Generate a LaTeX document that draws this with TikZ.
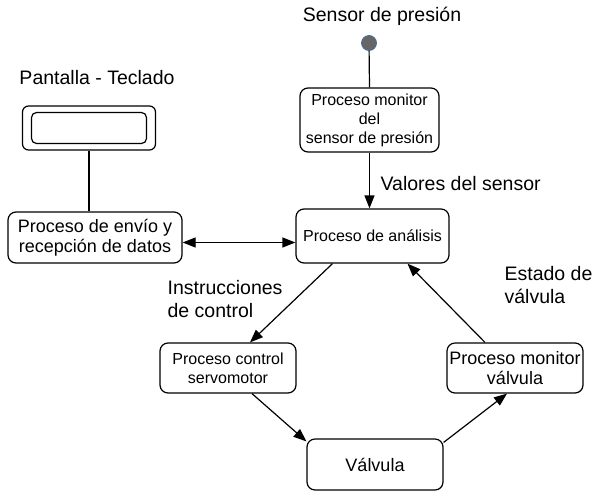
\documentclass[tikz,border=0pt]{standalone}
\usepackage{fontspec}
\setmainfont{Liberation Sans}
\usetikzlibrary{arrows.meta,positioning}

\begin{document}
\begin{tikzpicture}[x=1pt,y=-1pt, line width=1.2pt,
        >={Triangle[length=13pt,width=10pt]}]
      \tikzstyle{proc} = [draw, rounded corners=8pt, align=center, inner sep=1pt,
        font=\fontsize{16}{19}\selectfont]
      \tikzstyle{bigproc} = [proc, font=\fontsize{18}{20}\selectfont]
      \tikzstyle{note} = [align=left, inner sep=0pt, font=\fontsize{19.5}{23}\selectfont]
      \useasboundingbox (0,0) rectangle (599,499);
      % sensor and screen
      \node (sensor) [circle, minimum size=15pt, inner sep=0pt, fill=black!60,
        draw={rgb,255:red,74;green,106;blue,160}, line width=0.8pt] at (369,43) {};
      \node (sensortxt) [note] at (382,16) {Sensor de presión};
      \node (screen) [draw, rounded corners=6pt, minimum width=133pt, minimum height=44pt] at (89,128) {};
      \node (screenin) [draw, rounded corners=5pt, minimum width=115pt, minimum height=31pt] at (89,128) {};
      \node (screentxt) [note] at (97,78) {Pantalla - Teclado};
      % processes
      \node (monitor) [proc, minimum width=139pt, minimum height=64pt] at (369.5,120)
        {Proceso monitor\\del\\sensor de presión};
      \node (analisis) [proc, minimum width=153pt, minimum height=54pt] at (372.5,236)
        {Proceso de análisis};
      \node (envio) [bigproc, minimum width=174pt, minimum height=51pt] at (95,237.5)
        {Proceso de envío y\\recepción de datos};
      \node (control) [proc, minimum width=136pt, minimum height=50pt] at (228,368)
        {Proceso control\\servomotor};
      \node (valvula) [bigproc, minimum width=136pt, minimum height=51pt] at (375,464.5)
        {Válvula};
      \node (monvalv) [bigproc, minimum width=136pt, minimum height=50pt] at (515,368)
        {Proceso monitor\\válvula};
      % labels
      \node (valores) [note, anchor=west] at (380,184) {Valores del sensor};
      \node (instr) [note, anchor=west] at (167,299.5) {Instrucciones\\de control};
      \node (estado) [note, anchor=west] at (504,285.5) {Estado de\\válvula};
      % connectors
      \draw (sensor) -- (monitor.north);
      \draw (screen.south) -- (screen.south |- envio.north);
      \draw[->] (monitor.south) -- (monitor.south |- analisis.north);
      \draw[<->] ([yshift=-5pt]envio.east) -- ([yshift=-5pt]envio.east -| analisis.west);
      \draw[->] ([xshift=-40pt]analisis.south) -- ([xshift=22pt]control.north);
      \draw[->] ([xshift=24pt]control.south) -- ([yshift=-3pt]valvula.north west);
      \draw[->] ([yshift=-4pt]valvula.north east) -- ([xshift=-8pt]monvalv.south);
      \draw[->] ([xshift=-30pt]monvalv.north) -- ([xshift=35pt]analisis.south);
    \end{tikzpicture}
\end{document}
